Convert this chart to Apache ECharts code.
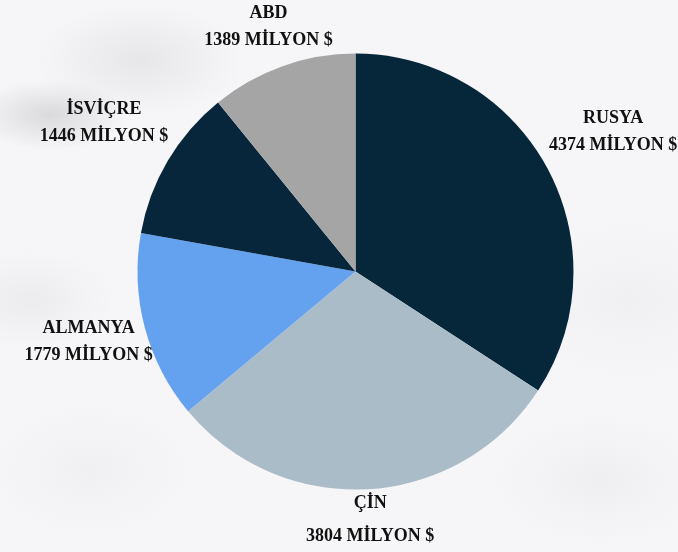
<!DOCTYPE html>
<html>
<head>
<meta charset="utf-8">
<script src="https://cdn.jsdelivr.net/npm/echarts@6/dist/echarts.min.js"></script>
<style>
html,body{margin:0;padding:0;}
body{width:678px;height:552px;overflow:hidden;
background:
 radial-gradient(ellipse 110px 50px at 50px 115px, rgba(165,165,170,0.35), rgba(165,165,170,0) 70%),
 radial-gradient(ellipse 150px 80px at 140px 60px, rgba(195,195,200,0.3), rgba(195,195,200,0) 70%),
 radial-gradient(ellipse 120px 70px at 30px 300px, rgba(205,205,210,0.25), rgba(205,205,210,0) 70%),
 radial-gradient(ellipse 180px 110px at 630px 300px, rgba(215,215,220,0.2), rgba(215,215,220,0) 70%),
 radial-gradient(ellipse 150px 90px at 600px 480px, rgba(210,210,215,0.2), rgba(210,210,215,0) 70%),
 radial-gradient(ellipse 140px 90px at 90px 470px, rgba(215,215,220,0.2), rgba(215,215,220,0) 70%),
 #f6f6f8;}
#c{width:678px;height:552px;}
</style>
</head>
<body>
<div id="c"></div>
<script>
const categories = ['RUSYA', 'ÇİN', 'ALMANYA', 'İSVİÇRE', 'ABD'];
const values = [4374, 3804, 1779, 1446, 1389];
const unit = 'MİLYON $';
const colors = ['#06263a', '#abbcc9', '#64a1ef', '#07263b', '#a5a5a5'];
const labelGap = [75, 31, 58, 74, 42];
const labelLineHeights = [27, 33, 27, 27, 27];

const chart = echarts.init(document.getElementById('c'), null, {renderer: 'canvas'});
chart.setOption({
  backgroundColor: 'transparent',
  animation: false,
  series: [{
    type: 'pie',
    center: ['52.43%', '49.2%'],
    radius: 218,
    startAngle: 90,
    clockwise: true,
    avoidLabelOverlap: false,
    data: categories.map((c, i) => ({
      name: c,
      value: values[i],
      itemStyle: {color: colors[i]},
      label: {lineHeight: labelLineHeights[i]},
      labelLine: {length: labelGap[i], length2: 0, show: false}
    })),
    label: {
      show: true,
      position: 'outside',
      distanceToLabelLine: 0,
      formatter: p => p.name + '\n' + p.value + ' ' + unit,
      fontFamily: 'Liberation Serif',
      fontWeight: 'bold',
      fontSize: 18,
      color: '#111111'
    },
    labelLine: {show: false},
    labelLayout: function () {
      return {align: 'center', verticalAlign: 'middle'};
    },
    emphasis: {disabled: true}
  }]
});
</script>
</body>
</html>
